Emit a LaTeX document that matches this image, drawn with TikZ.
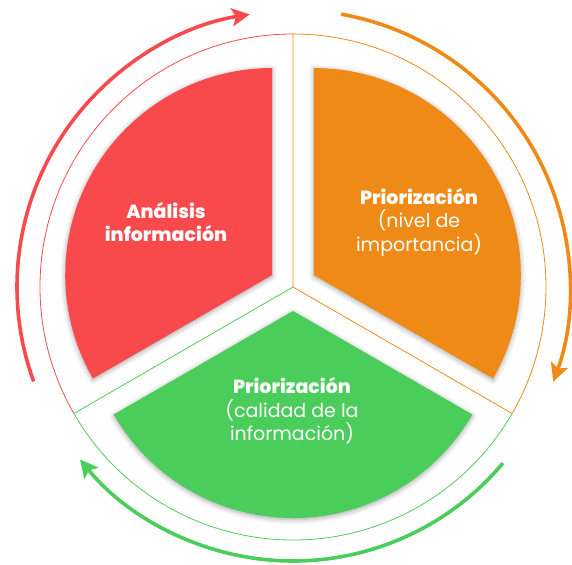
\documentclass[tikz,border=0pt]{standalone}
\usepackage{fontspec}
\setmainfont{Poppins}[BoldFont={Poppins ExtraBold}]
\usetikzlibrary{arrows.meta,calc,shadows.blur}
\definecolor{cred}{RGB}{248,74,77}
\definecolor{corange}{RGB}{240,138,22}
\definecolor{cgreen}{RGB}{74,205,90}
\begin{document}
\begin{tikzpicture}[x=1pt,y=1pt,
  sector/.style={blur shadow={shadow blur steps=6,shadow xshift=0pt,shadow yshift=-1.5pt,shadow opacity=35,shadow blur radius=5pt}},
  thin/.style={line width=0.8pt},
  cyc/.style={line width=3.6pt,-{Stealth[length=18pt,width=18pt,inset=4pt]}},
  lbl/.style={text=white,align=center,font=\fontsize{19}{23.5}\selectfont}]
\useasboundingbox (0,0) rectangle (572,564);
\coordinate (C) at (293,277);
% thin outlines
\draw[thin,cred] ($(C)+(90:253)$) arc[start angle=90,end angle=210,radius=253];
\draw[thin,cgreen] (C) -- ($(C)+(210:253)$) arc[start angle=210,end angle=330,radius=253];
\draw[thin,corange] ($(C)+(330:253)$) -- (C) -- ($(C)+(90:253)$) arc[start angle=90,end angle=-30,radius=253];
% filled sectors
\coordinate (Ra) at ($(C)+(150:24)$);
\coordinate (Oa) at ($(C)+(30:24)$);
\coordinate (Ga) at ($(C)+(270:24)$);
\fill[cred,sector] (Ra) -- ++(90:207) arc[start angle=90,end angle=210,radius=207] -- cycle;
\fill[corange,sector] (Oa) -- ++(90:207) arc[start angle=90,end angle=-30,radius=207] -- cycle;
\fill[cgreen,sector] (Ga) -- ++(210:207) arc[start angle=210,end angle=330,radius=207] -- cycle;
% cycle arrows
\draw[cyc,cred] ($(C)+(200:276)$) arc[start angle=200,end angle=99,radius=276];
\draw[cyc,corange] ($(C)+(80:277)$) arc[start angle=80,end angle=-20,radius=277];
\draw[cyc,cgreen] ($(C)+(-40:274)$) arc[start angle=-40,end angle=-141,radius=274];
% labels
\node[lbl] (red) at (166,342) {\textbf{Análisis}\\\textbf{información}};
\node[lbl] (orange) at (419,342) {\textbf{Priorización}\\(nivel de\\importancia)};
\node[lbl] (green) at (292,153) {\textbf{Priorización}\\(calidad de la\\información)};
\end{tikzpicture}
\end{document}
